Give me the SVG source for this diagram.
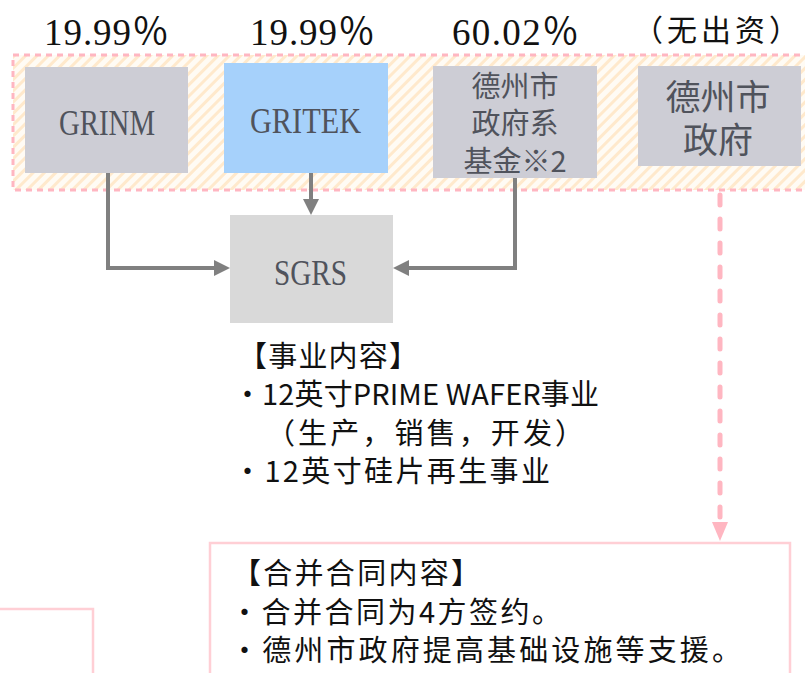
<svg xmlns="http://www.w3.org/2000/svg" width="805" height="673" viewBox="0 0 805 673">
<defs>
<style>
.pct{font-family:"Liberation Serif","Noto Sans CJK SC",serif;font-size:37px;fill:#111}
.lat{font-family:"Liberation Serif","Noto Sans CJK SC",serif;font-size:36px;fill:#50535c}
.cjkbox{font-family:"Noto Sans CJK SC","Noto Sans CJK JP",sans-serif;fill:#50535c}
.body{font-family:"Noto Sans CJK SC","Noto Sans CJK JP",sans-serif;font-size:29px;fill:#111}
.gray{fill:#cdcdd5}
.conn{fill:none;stroke:#808080;stroke-width:4}
.pink{fill:none;stroke:#ffb6c1;stroke-width:5;stroke-dasharray:10 14;stroke-linecap:round}
.pinkbox{fill:#fff;stroke:#ffcfd5;stroke-width:2.5}
</style>
<pattern id="hatch" width="8" height="8" patternUnits="userSpaceOnUse" patternTransform="rotate(45)">
<rect width="8" height="8" fill="#fffbf4"/>
<rect width="3" height="8" fill="#ffe9cc"/>
</pattern>
<marker id="ag" markerWidth="16" markerHeight="16" refX="8" refY="8" orient="auto" markerUnits="userSpaceOnUse">
<path d="M0,0 L16,8 L0,16 z" fill="#808080"/>
</marker>
<marker id="ap" markerWidth="19" markerHeight="16" refX="5" refY="8" orient="auto" markerUnits="userSpaceOnUse">
<path d="M0,0 L19,8 L0,16 z" fill="#ffb6c1"/>
</marker>
</defs>
<rect width="805" height="673" fill="#fff"/>

<g id="group-frame">
<rect x="13" y="55" width="800" height="135" fill="url(#hatch)" stroke="#ffb6c1" stroke-width="3" stroke-dasharray="6 5"/>
</g>

<g id="pct-labels">
<text class="pct" x="44" y="45" textLength="125" lengthAdjust="spacing">19.99％</text>
<text class="pct" x="250" y="45" textLength="125" lengthAdjust="spacing">19.99％</text>
<text class="pct" x="452" y="45" textLength="127" lengthAdjust="spacing">60.02％</text>
<text class="body" x="633" y="41" style="font-size:30px" textLength="166" lengthAdjust="spacing">（无出资）</text>
</g>

<g id="node-grinm">
<rect class="gray" x="25" y="67" width="163" height="106"/>
<text class="lat" x="59" y="135" textLength="96" lengthAdjust="spacingAndGlyphs">GRINM</text>
</g>

<g id="node-gritek">
<rect x="224" y="63" width="164" height="110" fill="#a6d1fb"/>
<text class="lat" x="250" y="133" textLength="111" lengthAdjust="spacingAndGlyphs">GRITEK</text>
</g>

<g id="node-fund">
<rect class="gray" x="433" y="66" width="164" height="112"/>
<text class="cjkbox" font-size="29" x="515" y="97" text-anchor="middle">德州市</text>
<text class="cjkbox" font-size="29" x="515" y="134" text-anchor="middle">政府系</text>
<text class="cjkbox" font-size="29" x="515" y="172" text-anchor="middle">基金※2</text>
</g>

<g id="node-dezhou">
<rect class="gray" x="638" y="66" width="163" height="100"/>
<text class="cjkbox" font-size="35" x="718" y="110" text-anchor="middle">德州市</text>
<text class="cjkbox" font-size="35" x="718" y="153" text-anchor="middle">政府</text>
</g>

<g id="node-sgrs">
<rect x="230" y="215" width="163" height="108" fill="#d9d9d9"/>
<text class="lat" x="274" y="285" textLength="73" lengthAdjust="spacingAndGlyphs">SGRS</text>
</g>

<g id="connectors">
<path class="conn" d="M108 173 V268 H222" marker-end="url(#ag)"/>
<path class="conn" d="M311 173 V207" marker-end="url(#ag)"/>
<path class="conn" d="M515 178 V268 H401" marker-end="url(#ag)"/>
<path class="pink" d="M720 195 V527" marker-end="url(#ap)"/>
</g>

<g id="business-text">
<text class="body" x="238" y="367" textLength="180" lengthAdjust="spacing">【事业内容】</text>
<text class="body" x="233" y="405" textLength="366" lengthAdjust="spacing">・12英寸PRIME WAFER事业</text>
<text class="body" x="266" y="444" textLength="318" lengthAdjust="spacing">（生产，销售，开发）</text>
<text class="body" x="233" y="482" textLength="317" lengthAdjust="spacing">・12英寸硅片再生事业</text>
</g>

<g id="node-contract">
<rect class="pinkbox" x="210" y="543" width="580" height="150"/>
<text class="body" x="232" y="584" textLength="248" lengthAdjust="spacing">【合并合同内容】</text>
<text class="body" x="230" y="623" textLength="331" lengthAdjust="spacing">・合并合同为4方签约。</text>
<text class="body" x="230" y="661" textLength="511" lengthAdjust="spacing">・德州市政府提高基础设施等支援。</text>
</g>

<g id="node-left">
<rect class="pinkbox" x="-20" y="609" width="113" height="90"/>
</g>
</svg>
